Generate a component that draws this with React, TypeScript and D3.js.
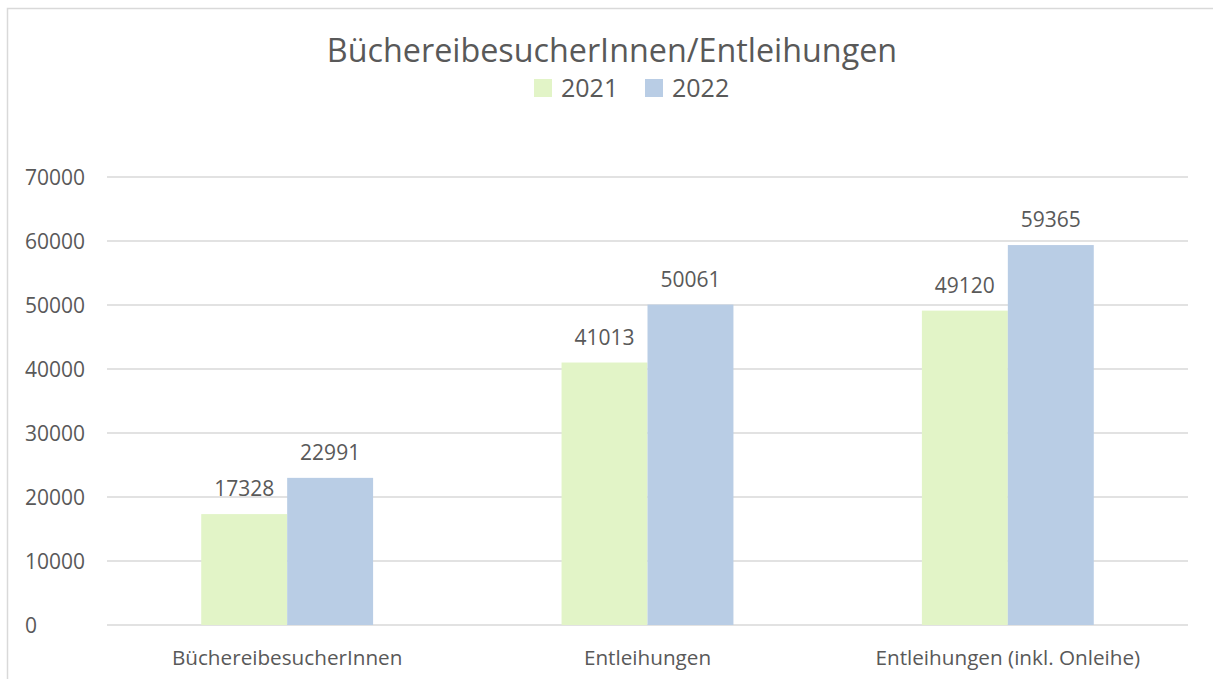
import * as d3 from "d3";

const categories = ["BüchereibesucherInnen", "Entleihungen", "Entleihungen (inkl. Onleihe)"];
const seriesNames = ["2021", "2022"];
const values2021 = [17328, 41013, 49120];
const values2022 = [22991, 50061, 59365];
const yTicks = [0, 10000, 20000, 30000, 40000, 50000, 60000, 70000];

const colors = ["#E2F4C7", "#B9CDE5"];
const textColor = "#595959";
const gridColor = "#D9D9D9";
const font = "'Open Sans', sans-serif";

export default function App() {
  const width = 1213;
  const height = 679;
  const margin = { top: 177, right: 25, bottom: 54, left: 107 };
  const innerW = width - margin.left - margin.right;

  const y = d3.scaleLinear().domain([0, 70000]).range([625, 177]);
  const x0 = d3.scaleBand().domain(categories).range([margin.left, margin.left + innerW]);
  const groupW = x0.bandwidth() * 0.477;
  const x1 = d3.scaleBand().domain(seriesNames).range([0, groupW]);

  const series = [values2021, values2022];

  return (
    <svg
      width={width}
      height={height}
      style={{ position: "absolute", left: 0, top: 0, background: "#fff" }}
      fontFamily={font}
    >
      <rect x={7.5} y={8.5} width={1230} height={700} fill="#fff" stroke={gridColor} strokeWidth={1.5} />

      <text x={612} y={61.5} textAnchor="middle" fontSize={32.3} fill={textColor}>
        BüchereibesucherInnen/Entleihungen
      </text>

      {/* legend */}
      {seriesNames.map((s, i) => {
        const lx = 534 + i * 111;
        return (
          <g key={s}>
            <rect x={lx} y={79} width={18} height={18} fill={colors[i]} />
            <text x={lx + 27} y={97} fontSize={25} fill={textColor}>{s}</text>
          </g>
        );
      })}

      {/* grid + y ticks */}
      {yTicks.map((t) => (
        <g key={t}>
          <line x1={margin.left} x2={margin.left + innerW} y1={y(t)} y2={y(t)} stroke={gridColor} strokeWidth={1.5} />
          <text x={25} y={y(t)} dy="0.36em" fontSize={21} fill={textColor}>{t}</text>
        </g>
      ))}

      {/* bars */}
      {categories.map((c, ci) => {
        const gx = x0(c)! + (x0.bandwidth() - groupW) / 2;
        return (
          <g key={c}>
            {series.map((vals, si) => {
              const bx = gx + x1(seriesNames[si])!;
              const v = vals[ci];
              return (
                <g key={si}>
                  <rect x={bx} y={y(v)} width={x1.bandwidth()} height={y(0) - y(v)} fill={colors[si]} />
                  <text x={bx + x1.bandwidth() / 2} y={y(v) - 18} textAnchor="middle" fontSize={21} fill={textColor}>
                    {v}
                  </text>
                </g>
              );
            })}
            <text x={x0(c)! + x0.bandwidth() / 2} y={665} textAnchor="middle" fontSize={20.7} fill={textColor}>
              {c}
            </text>
          </g>
        );
      })}
    </svg>
  );
}
